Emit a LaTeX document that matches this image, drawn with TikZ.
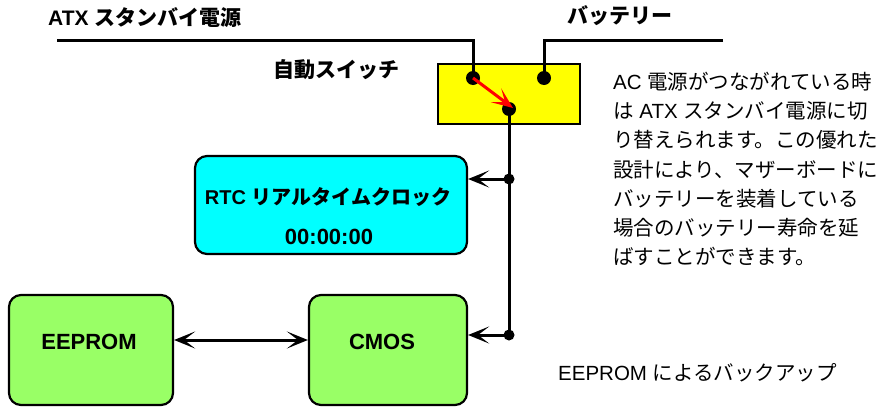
\documentclass[tikz,border=0pt]{standalone}
\usepackage{fontspec}
\setmainfont{Liberation Sans}
\newfontfamily\jpfont{Noto Sans CJK JP}
\usetikzlibrary{positioning,arrows.meta,calc}
\definecolor{swyellow}{RGB}{255,255,0}
\definecolor{rtccyan}{RGB}{0,255,255}
\definecolor{romgreen}{RGB}{153,255,102}
\definecolor{swred}{RGB}{255,0,0}

\begin{document}
\begin{tikzpicture}[x=1pt,y=-1pt,
    wire/.style={line width=3pt},
    tip/.tip={Stealth[length=21pt,width=17pt,inset=11pt]},
    arr/.style={wire,-tip},
    pin/.style={circle,fill=black,inner sep=0pt,minimum size=14pt},
    jn/.style={circle,fill=black,inner sep=0pt,minimum size=11pt},
    blk/.style={draw,line width=2.2pt,rounded corners=12pt,inner sep=0pt},
    hd/.style={inner sep=0pt,anchor=west,font=\fontsize{21}{24}\selectfont\bfseries},
    txt/.style={inner sep=0pt,anchor=west,align=left,font=\fontsize{20.5}{29.2}\selectfont}]
\useasboundingbox (0,0) rectangle (889,407);

\node[hd] (atxlbl) at (48,18) {ATX {\jpfont スタンバイ電源}};
\node[hd] (batlbl) at (567,16) {\jpfont バッテリー};
\node[hd] (swlbl) at (273,70) {\jpfont 自動スイッチ};

\node[draw,fill=swyellow,line width=2.2pt,minimum width=142pt,minimum height=60pt,inner sep=0pt]
    (sw) at (509,94) {};
\node[pin] (atxpin) at (473,78) {};
\node[pin] (batpin) at (544,78) {};
\node[pin] (outpin) at (509,109) {};
\coordinate (atxend) at (57,40);
\coordinate (batend) at (723,40);
\draw[wire] (atxend) -| (atxpin.center);
\draw[wire] (batend) -| (batpin.center);
\draw[wire,swred,-tip] (atxpin.center) -- ([xshift=4pt,yshift=1pt]outpin.center);

\node[blk,fill=rtccyan,minimum width=272pt,minimum height=98pt] (rtc) at (331,205) {};
\node[hd,anchor=center,font=\fontsize{20}{24}\selectfont\bfseries] (rtcname) at (328,197)
    {RTC {\jpfont リアルタイムクロック}};
\node[hd,anchor=center,font=\fontsize{22}{24}\selectfont\bfseries] (rtctime) at (329,237) {00:00:00};

\node[blk,fill=romgreen,minimum width=164pt,minimum height=110pt] (eeprom) at (91,350) {};
\node[hd,anchor=center,font=\fontsize{22}{24}\selectfont\bfseries] (eepromlbl) at (89,342) {EEPROM};
\node[blk,fill=romgreen,minimum width=158pt,minimum height=110pt] (cmos) at (388,350) {};
\node[hd,anchor=center,font=\fontsize{22}{24}\selectfont\bfseries] (cmoslbl) at (382,342) {CMOS};

\node[jn] (rtcjn) at (509,179) {};
\node[jn] (cmosjn) at (509,335) {};
\draw[wire] (outpin.center) -- (cmosjn.center);
\draw[arr] (rtcjn.center) -- (rtcjn -| rtc.east);
\draw[arr] (cmosjn.center) -- (cmosjn -| cmos.east);
\draw[wire,tip-tip] ([yshift=10pt]eeprom.east) -- ([yshift=10pt]cmos.west);

\node[txt] (note) at (613,169) {AC {\jpfont 電源がつながれている時}\\
    {\jpfont は} ATX {\jpfont スタンバイ電源に切}\\
    {\jpfont り替えられます。この優れた}\\
    {\jpfont 設計により、マザーボードに}\\
    {\jpfont バッテリーを装着している}\\
    {\jpfont 場合のバッテリー寿命を延}\\
    {\jpfont ばすことができます。}};
\node[txt] (backup) at (558,373) {EEPROM {\jpfont によるバックアップ}};
\end{tikzpicture}
\end{document}
